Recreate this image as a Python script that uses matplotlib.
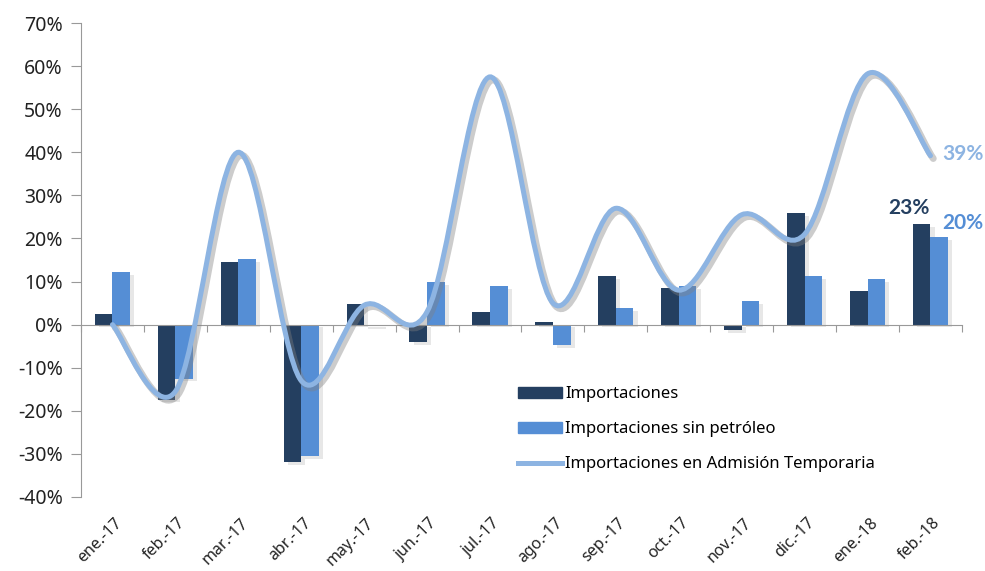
import matplotlib.pyplot as plt
import matplotlib.patheffects as pe
from matplotlib.path import Path
from matplotlib.patches import PathPatch, Patch
from matplotlib.lines import Line2D
import numpy as np

plt.rcParams['font.family'] = ['Noto Sans', 'DejaVu Sans']

# Data (variación % anual)
meses = ['ene.-17', 'feb.-17', 'mar.-17', 'abr.-17', 'may.-17', 'jun.-17', 'jul.-17',
         'ago.-17', 'sep.-17', 'oct.-17', 'nov.-17', 'dic.-17', 'ene.-18', 'feb.-18']
importaciones = [2.5, -17.4, 14.6, -31.9, 4.7, -4.0, 3.0, 0.5, 11.3, 8.4, -1.2, 25.8, 7.9, 23.4]
sin_petroleo = [12.2, -12.5, 15.2, -30.5, -0.3, 9.8, 9.0, -4.8, 3.9, 9.0, 5.4, 11.3, 10.5, 20.3]
admision_temp = [0.0, -15.5, 40.0, -13.0, 4.5, 3.0, 57.5, 5.0, 27.0, 8.0, 25.5, 21.0, 58.2, 39.2]

c_dark = '#243F60'
c_mid = '#558ED5'
c_line = '#8DB4E2'

fig = plt.figure(figsize=(9.85, 5.71), dpi=100)
ax = fig.add_axes([0.0822, 0.1296, 0.8944, 0.8301])

x = np.arange(len(meses))
w = 0.28
shadow = [pe.SimplePatchShadow(offset=(3, -2), shadow_rgbFace='#888888', alpha=0.2), pe.Normal()]
b1 = ax.bar(x - w / 2, importaciones, w, color=c_dark, zorder=2)
b2 = ax.bar(x + w / 2, sin_petroleo, w, color=c_mid, zorder=2)
for b in list(b1) + list(b2):
    b.set_path_effects(shadow)

# smoothed line (Bezier through the points, like Excel)
y = np.array(admision_temp)
verts = [(x[0], y[0])]
codes = [Path.MOVETO]
n = len(y)
for i in range(n - 1):
    p0 = np.array([x[max(i - 1, 0)], y[max(i - 1, 0)]])
    p1 = np.array([x[i], y[i]])
    p2 = np.array([x[i + 1], y[i + 1]])
    p3 = np.array([x[min(i + 2, n - 1)], y[min(i + 2, n - 1)]])
    c1 = p1 + (p2 - p0) / 6
    c2 = p2 - (p3 - p1) / 6
    verts += [tuple(c1), tuple(c2), tuple(p2)]
    codes += [Path.CURVE4] * 3
curve = PathPatch(Path(verts, codes), fill=False, edgecolor=c_line, lw=3.6,
                  capstyle='round', zorder=3)
curve.set_path_effects([pe.SimpleLineShadow(offset=(2, -2), shadow_color='gray', alpha=0.4, linewidth=5),
                        pe.Normal()])
ax.add_patch(curve)

ax.set_xlim(-0.5, len(meses) - 0.5)
ax.set_ylim(-40, 70)
ax.set_yticks(range(-40, 80, 10))
ax.set_yticklabels([f'{v}%' for v in range(-40, 80, 10)], fontsize=14, color='#222222')
ax.tick_params(axis='y', length=7, color='#999999', pad=6)

ax.spines['top'].set_visible(False)
ax.spines['right'].set_visible(False)
ax.spines['left'].set_color('#999999')
ax.spines['bottom'].set_color('#999999')
ax.spines['bottom'].set_position(('data', 0))
ax.set_xticks(np.arange(-0.5, len(meses), 1.0))
ax.set_xticklabels([])
ax.tick_params(axis='x', direction='out', length=5, color='#999999')

for i, m in enumerate(meses):
    ax.text(i + 0.03, -0.038, m, transform=ax.get_xaxis_transform(), rotation=45,
            rotation_mode='anchor', ha='right', va='top', fontsize=11.5, color='#222222')

# final value labels
lbl = dict(fontsize=15, fontweight='bold', family=['Lato', 'DejaVu Sans'])
ax.text(x[-1] - w / 2 - 0.2, importaciones[-1] + 1.3, '23%', ha='center', va='bottom',
        color=c_dark, **lbl)
ax.text(x[-1] + w / 2 + 0.05, sin_petroleo[-1] + 3.2, '20%', ha='left', va='center',
        color=c_mid, **lbl)
ax.text(x[-1] + 0.18, admision_temp[-1] + 0.5, '39%', ha='left', va='center',
        color=c_line, **lbl)

handles = [Patch(color=c_dark), Patch(color=c_mid), Line2D([], [], color=c_line, lw=3.6)]
labels = ['Importaciones', 'Importaciones sin petróleo', 'Importaciones en Admisión Temporaria']
ax.legend(handles, labels, loc='upper left', bbox_to_anchor=(0.511, 0.35),
          bbox_transform=fig.transFigure, frameon=False, fontsize=12,
          handlelength=2.6, handleheight=0.6, labelspacing=1.15, handletextpad=0.2)

fig.savefig('out.png', dpi=100)
